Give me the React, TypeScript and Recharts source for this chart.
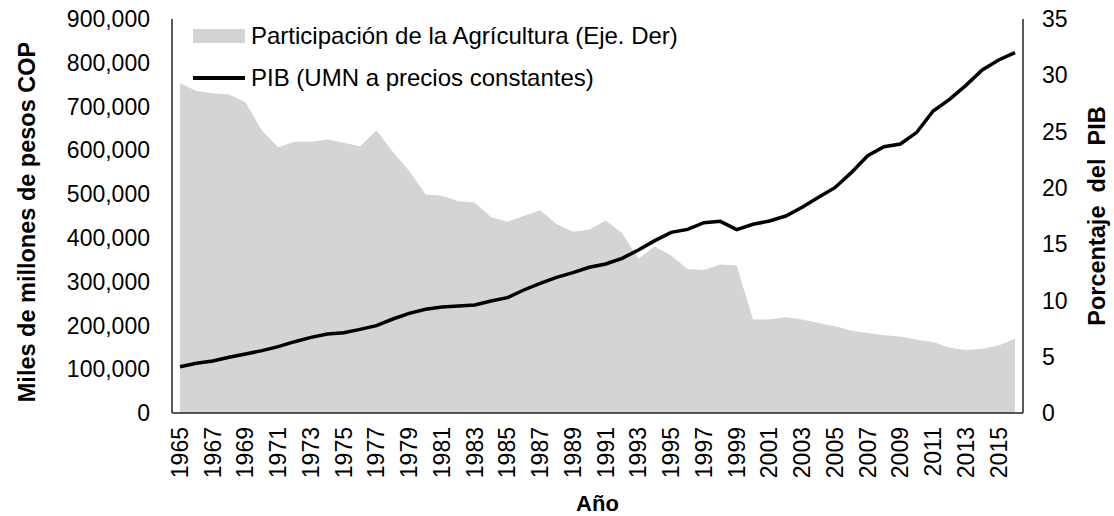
import React from "react";
import {
  ComposedChart,
  Area,
  Line,
  XAxis,
  YAxis,
  Legend,
  Label,
} from "recharts";

const years: string[] = [
  "1965","1966","1967","1968","1969","1970","1971","1972","1973","1974",
  "1975","1976","1977","1978","1979","1980","1981","1982","1983","1984",
  "1985","1986","1987","1988","1989","1990","1991","1992","1993","1994",
  "1995","1996","1997","1998","1999","2000","2001","2002","2003","2004",
  "2005","2006","2007","2008","2009","2010","2011","2012","2013","2014",
  "2015","2016",
];

const pib: number[] = [
  105800, 113500, 118800, 127200, 134800, 142400, 151500, 162900, 172800, 180500,
  183500, 191100, 199500, 214700, 227700, 236800, 242100, 244400, 246700, 255800,
  263500, 281000, 296200, 309900, 320500, 332800, 340300, 353300, 372300, 393700,
  412700, 419500, 434800, 437800, 418800, 431000, 438600, 450000, 469800, 492600,
  514700, 549000, 587800, 608400, 614500, 641100, 689900, 716500, 748500, 783500,
  806400, 823100,
];

const agricultura: number[] = [
  29.3, 28.6, 28.4, 28.3, 27.6, 25.1, 23.6, 24.1, 24.1, 24.3,
  24.0, 23.7, 25.1, 23.2, 21.5, 19.4, 19.3, 18.8, 18.7, 17.4,
  17.0, 17.5, 18.0, 16.8, 16.1, 16.3, 17.1, 16.0, 13.7, 14.8,
  14.0, 12.8, 12.7, 13.2, 13.1, 8.3, 8.3, 8.5, 8.3, 8.0,
  7.7, 7.3, 7.1, 6.9, 6.8, 6.5, 6.3, 5.8, 5.6, 5.7,
  6.0, 6.6,
];

const leftTicks: number[] = [0, 100000, 200000, 300000, 400000, 500000, 600000, 700000, 800000, 900000];
const rightTicks: number[] = [0, 5, 10, 15, 20, 25, 30, 35];

const seriesNames = {
  agri: "Participación de la Agrícultura (Eje. Der)",
  pib: "PIB (UMN a precios constantes)",
};

const data = years.map((y, i) => ({ year: y, pib: pib[i], agri: agricultura[i] }));

const FONT = "'Liberation Sans', Arial, sans-serif";
const AREA_COLOR = "#D4D3D5";

const XTick = (props: any) => {
  const { x, y, payload } = props;
  return (
    <text
      x={x}
      y={y}
      transform={`rotate(-90 ${x} ${y})`}
      textAnchor="end"
      dominantBaseline="central"
      fontFamily={FONT}
      fontSize={23}
      fill="#000"
    >
      {payload.value}
    </text>
  );
};

const LegendContent = () => (
  <div style={{ fontFamily: FONT, fontSize: 24, color: "#000", whiteSpace: "nowrap" }}>
    <div style={{ display: "flex", alignItems: "center", height: 42 }}>
      <div style={{ width: 52, height: 14, background: AREA_COLOR, marginRight: 6 }} />
      <span>{seriesNames.agri}</span>
    </div>
    <div style={{ display: "flex", alignItems: "center", height: 42 }}>
      <div style={{ width: 52, height: 4, background: "#000", marginRight: 6 }} />
      <span>{seriesNames.pib}</span>
    </div>
  </div>
);

const LeftTitle = (props: any) => {
  const vb = props.viewBox || {};
  const cx = 27;
  const cy = vb.y + vb.height / 2 + 6;
  return (
    <text
      x={cx}
      y={cy}
      transform={`rotate(-90 ${cx} ${cy})`}
      textAnchor="middle"
      dominantBaseline="central"
      fontFamily={FONT}
      fontWeight="bold"
      fontSize={23.5}
      fill="#000"
    >
      Miles de millones de pesos COP
    </text>
  );
};

const RightTitle = (props: any) => {
  const vb = props.viewBox || {};
  const cx = 1097;
  const cy = vb.y + vb.height / 2;
  return (
    <text
      x={cx}
      y={cy}
      transform={`rotate(-90 ${cx} ${cy})`}
      textAnchor="middle"
      dominantBaseline="central"
      fontFamily={FONT}
      fontWeight="bold"
      fontSize={23.5}
      fill="#000"
    >
      {"Porcentaje\u00A0\u00A0del\u00A0\u00A0PIB"}
    </text>
  );
};

const BottomTitle = (props: any) => {
  const vb = props.viewBox || {};
  const cx = vb.x + vb.width / 2;
  return (
    <text
      x={cx}
      y={503}
      textAnchor="middle"
      dominantBaseline="central"
      fontFamily={FONT}
      fontWeight="bold"
      fontSize={22}
      fill="#000"
    >
      Año
    </text>
  );
};

const fmt = (v: number) => v.toLocaleString("en-US");

export default function App() {
  return (
    <div style={{ position: "absolute", left: 0, top: 0, width: 1114, height: 516, background: "#fff" }}>
      <ComposedChart
        width={1114}
        height={516}
        data={data}
        margin={{ top: 19, right: 0, bottom: 0, left: 0 }}
      >
        <XAxis
          dataKey="year"
          height={103}
          interval={1}
          padding={{ left: 8, right: 8 }}
          tickLine={false}
          tickSize={0}
          tickMargin={14}
          tick={<XTick />}
          axisLine={{ stroke: "#222", strokeWidth: 1.5 }}
        >
          <Label content={<BottomTitle />} />
        </XAxis>
        <YAxis
          yAxisId="left"
          width={172}
          domain={[0, 900000]}
          ticks={leftTicks}
          tickFormatter={fmt}
          tickLine={false}
          tickSize={0}
          tickMargin={22}
          interval={0}
          axisLine={{ stroke: "#222", strokeWidth: 1.5 }}
          tick={{ fontFamily: FONT, fontSize: 23, fill: "#000" }}
        >
          <Label content={<LeftTitle />} />
        </YAxis>
        <YAxis
          yAxisId="right"
          orientation="right"
          width={91}
          domain={[0, 35]}
          ticks={rightTicks}
          tickLine={false}
          tickSize={0}
          tickMargin={19}
          interval={0}
          axisLine={{ stroke: "#222", strokeWidth: 1.5 }}
          tick={{ fontFamily: FONT, fontSize: 23, fill: "#000", textAnchor: "start" }}
        >
          <Label content={<RightTitle />} />
        </YAxis>
        <Legend
          content={<LegendContent />}
          layout="vertical"
          verticalAlign="middle"
          align="center"
          wrapperStyle={{ top: 15, left: 193, width: "auto", height: "auto" }}
        />
        <Area
          yAxisId="right"
          dataKey="agri"
          name={seriesNames.agri}
          type="linear"
          stroke="none"
          fill={AREA_COLOR}
          fillOpacity={1}
          isAnimationActive={false}
          dot={false}
          activeDot={false}
        />
        <Line
          yAxisId="left"
          dataKey="pib"
          name={seriesNames.pib}
          type="linear"
          stroke="#000"
          strokeWidth={3.5}
          dot={false}
          activeDot={false}
          isAnimationActive={false}
        />
      </ComposedChart>
    </div>
  );
}
